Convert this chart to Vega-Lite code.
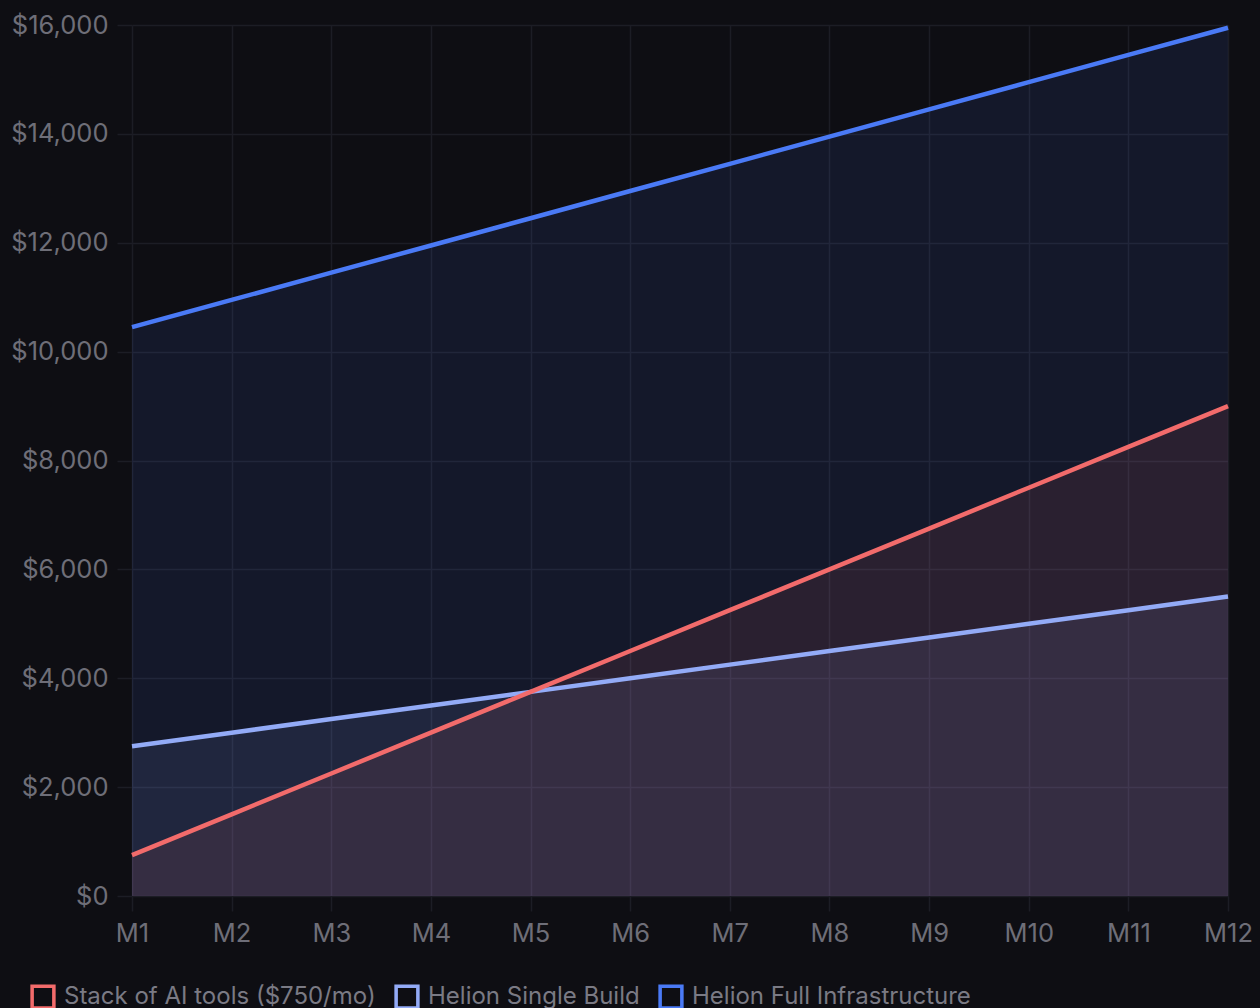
{
  "$schema": "https://vega.github.io/schema/vega-lite/v6.json",
  "width": 1096,
  "height": 871,
  "autosize": "none",
  "padding": {"left": 132, "top": 25, "right": 32, "bottom": 112},
  "background": "#0e0e13",
  "config": {
    "view": {"stroke": null},
    "font": "Inter",
    "axis": {
      "gridColor": "#1c1d25",
      "gridWidth": 1.5,
      "tickColor": "#1c1d25",
      "tickWidth": 1.5,
      "tickSize": 15,
      "domain": false,
      "labelColor": "#6e6e78",
      "labelFontSize": 25.5,
      "labelFont": "Inter",
      "title": null
    }
  },
  "data": {
    "values": [
      {"month": "M1", "series": "Helion Full Infrastructure", "value": 10450},
      {"month": "M2", "series": "Helion Full Infrastructure", "value": 10950},
      {"month": "M3", "series": "Helion Full Infrastructure", "value": 11450},
      {"month": "M4", "series": "Helion Full Infrastructure", "value": 11950},
      {"month": "M5", "series": "Helion Full Infrastructure", "value": 12450},
      {"month": "M6", "series": "Helion Full Infrastructure", "value": 12950},
      {"month": "M7", "series": "Helion Full Infrastructure", "value": 13450},
      {"month": "M8", "series": "Helion Full Infrastructure", "value": 13950},
      {"month": "M9", "series": "Helion Full Infrastructure", "value": 14450},
      {"month": "M10", "series": "Helion Full Infrastructure", "value": 14950},
      {"month": "M11", "series": "Helion Full Infrastructure", "value": 15450},
      {"month": "M12", "series": "Helion Full Infrastructure", "value": 15950},
      {"month": "M1", "series": "Helion Single Build", "value": 2750},
      {"month": "M2", "series": "Helion Single Build", "value": 3000},
      {"month": "M3", "series": "Helion Single Build", "value": 3250},
      {"month": "M4", "series": "Helion Single Build", "value": 3500},
      {"month": "M5", "series": "Helion Single Build", "value": 3750},
      {"month": "M6", "series": "Helion Single Build", "value": 4000},
      {"month": "M7", "series": "Helion Single Build", "value": 4250},
      {"month": "M8", "series": "Helion Single Build", "value": 4500},
      {"month": "M9", "series": "Helion Single Build", "value": 4750},
      {"month": "M10", "series": "Helion Single Build", "value": 5000},
      {"month": "M11", "series": "Helion Single Build", "value": 5250},
      {"month": "M12", "series": "Helion Single Build", "value": 5500},
      {"month": "M1", "series": "Stack of AI tools ($750/mo)", "value": 750},
      {"month": "M2", "series": "Stack of AI tools ($750/mo)", "value": 1500},
      {"month": "M3", "series": "Stack of AI tools ($750/mo)", "value": 2250},
      {"month": "M4", "series": "Stack of AI tools ($750/mo)", "value": 3000},
      {"month": "M5", "series": "Stack of AI tools ($750/mo)", "value": 3750},
      {"month": "M6", "series": "Stack of AI tools ($750/mo)", "value": 4500},
      {"month": "M7", "series": "Stack of AI tools ($750/mo)", "value": 5250},
      {"month": "M8", "series": "Stack of AI tools ($750/mo)", "value": 6000},
      {"month": "M9", "series": "Stack of AI tools ($750/mo)", "value": 6750},
      {"month": "M10", "series": "Stack of AI tools ($750/mo)", "value": 7500},
      {"month": "M11", "series": "Stack of AI tools ($750/mo)", "value": 8250},
      {"month": "M12", "series": "Stack of AI tools ($750/mo)", "value": 9000}
    ]
  },
  "encoding": {
    "x": {
      "field": "month",
      "type": "ordinal",
      "sort": ["M1","M2","M3","M4","M5","M6","M7","M8","M9","M10","M11","M12"],
      "scale": {"type": "point", "padding": 0},
      "axis": {"labelAngle": 0, "labelPadding": 10, "grid": true}
    },
    "y": {
      "field": "value",
      "type": "quantitative",
      "stack": null,
      "scale": {"domain": [0, 16000], "nice": false},
      "axis": {"values": [0,2000,4000,6000,8000,10000,12000,14000,16000], "format": "$,.0f", "labelPadding": 9, "grid": true}
    },
    "color": {
      "field": "series",
      "type": "nominal",
      "scale": {
        "domain": ["Stack of AI tools ($750/mo)", "Helion Single Build", "Helion Full Infrastructure"],
        "range": ["#f26b6b", "#93abf7", "#4a7af6"]
      },
      "legend": {
        "title": null,
        "orient": "none",
        "legendX": -102,
        "legendY": 959,
        "direction": "horizontal",
        "symbolType": "M-1,-1H1V1H-1Z M-0.72,-0.72V0.72H0.72V-0.72Z",
        "symbolSize": 640,
        "symbolStrokeWidth": 0,
        "symbolOpacity": 1,
        "labelFontSize": 24,
        "labelFont": "Inter",
        "labelColor": "#7a7a84",
        "labelOffset": 8,
        "columnPadding": 18,
        "labelLimit": 500
      }
    }
  },
  "layer": [
    {
      "mark": {"type": "area", "fillOpacity": 0.1}
    },
    {
      "mark": {"type": "line", "strokeWidth": 4.5}
    }
  ]
}
